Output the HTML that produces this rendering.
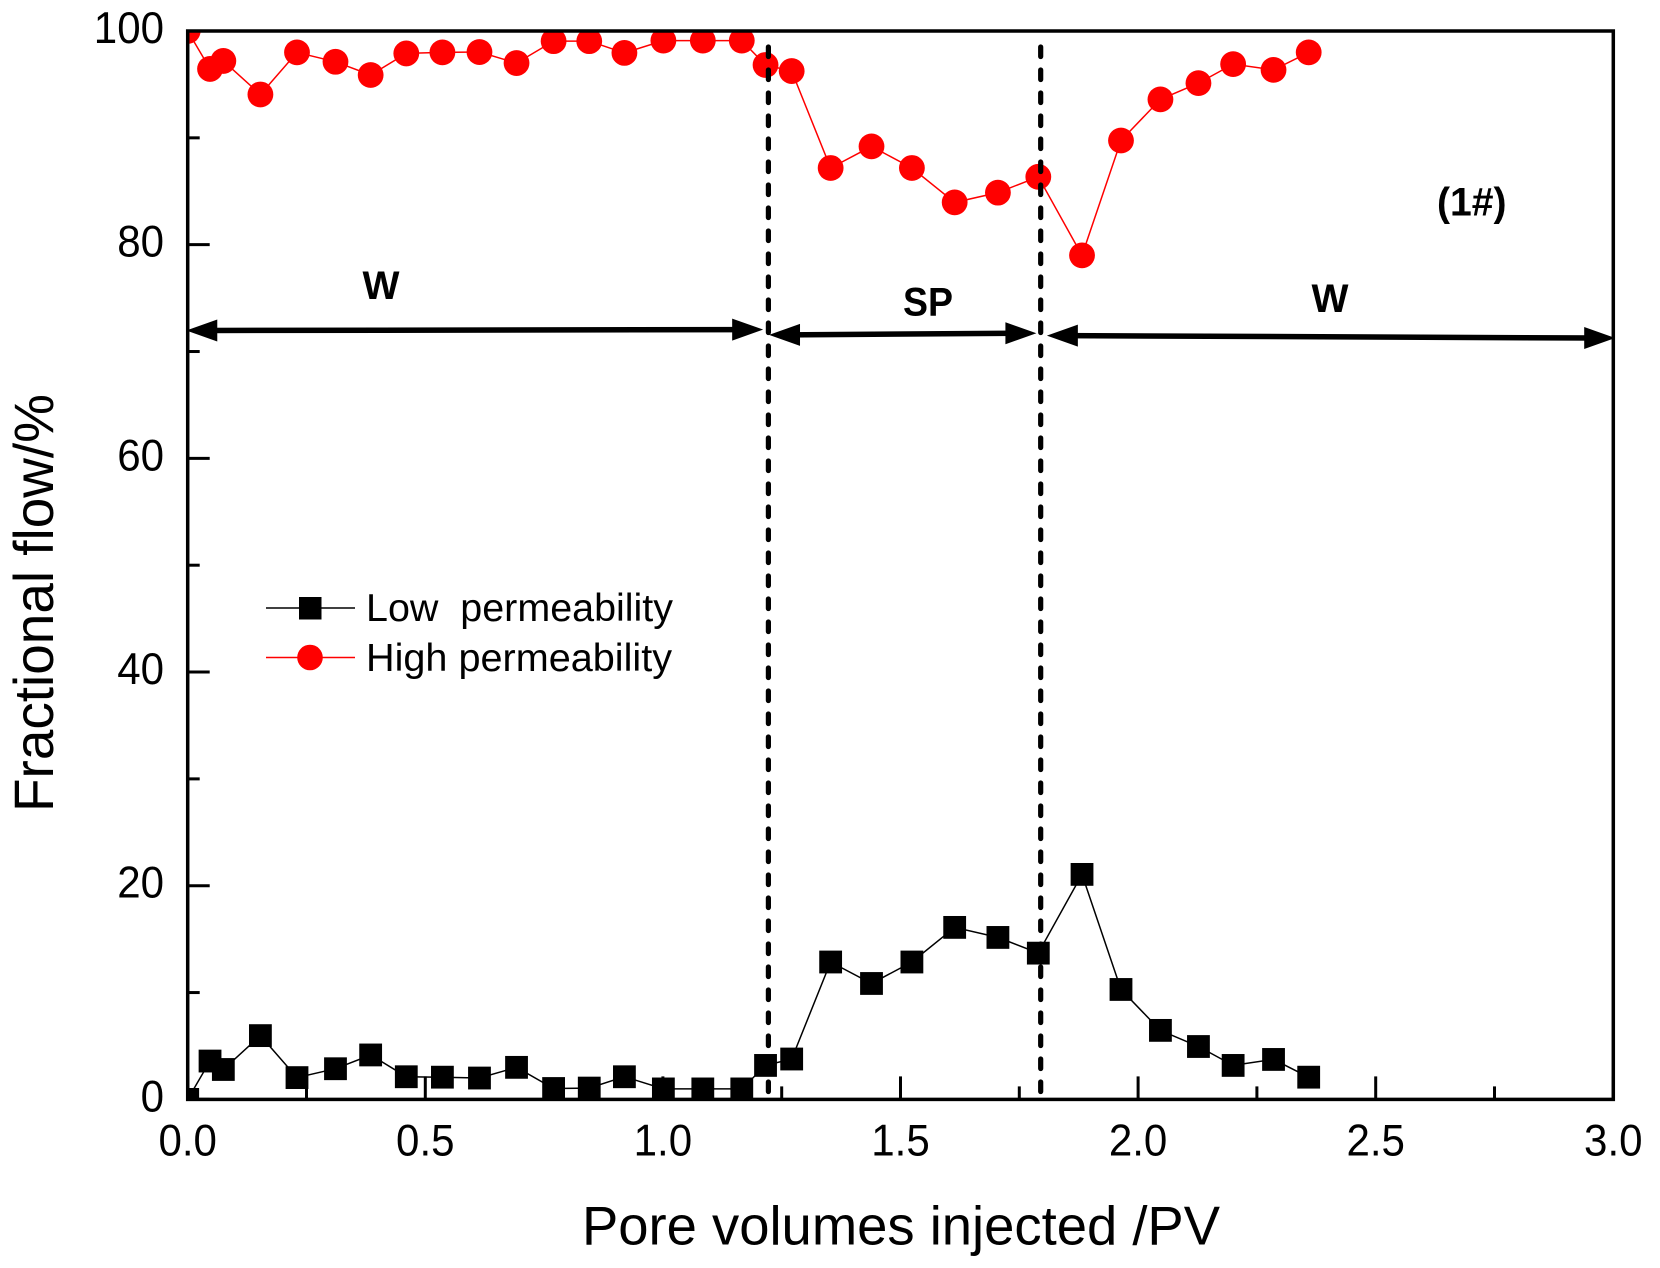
<!DOCTYPE html>
<html lang="en">
<head>
<meta charset="utf-8">
<title>Fractional flow vs pore volumes injected</title>
<style>
html,body{margin:0;padding:0;background:#fff;}
svg{display:block;}
text{font-family:"Liberation Sans",sans-serif;fill:#000;white-space:pre;}
.bold{font-weight:bold;}
</style>
</head>
<body>
<svg id="chart" xmlns="http://www.w3.org/2000/svg" width="1660" height="1268" viewBox="0 0 1660 1268">
  <rect x="0" y="0" width="1660" height="1268" fill="#fff"/>
  <defs>
    <clipPath id="plot-clip"><rect id="plot-clip-rect" x="0" y="0" width="0" height="0"/></clipPath>
  </defs>
  <g id="series-layer" clip-path="url(#plot-clip)"></g>
  <g id="vline-layer"></g>
  <g id="arrow-layer"></g>
  <g id="axis-layer"></g>

  <text x="582" y="1244.5" font-size="55" textLength="638" lengthAdjust="spacingAndGlyphs">Pore volumes injected /PV</text>
  <text transform="translate(53,812) rotate(-90)" x="0" y="0" font-size="56" textLength="418" lengthAdjust="spacingAndGlyphs">Fractional flow/%</text>

  <text class="bold" x="362.5" y="299" font-size="40" textLength="37" lengthAdjust="spacingAndGlyphs">W</text>
  <text class="bold" x="903" y="315.5" font-size="40" textLength="50" lengthAdjust="spacingAndGlyphs">SP</text>
  <text class="bold" x="1311.5" y="312" font-size="40" textLength="37" lengthAdjust="spacingAndGlyphs">W</text>
  <text class="bold" x="1437" y="215.5" font-size="40" textLength="69.5" lengthAdjust="spacingAndGlyphs">(1#)</text>

  <g>
    <g>
      <line x1="266" y1="608" x2="355" y2="608" stroke="#000" stroke-width="1.5"/>
      <rect x="299" y="597" width="22.5" height="22.5" fill="#000"/>
      <text x="366" y="621" font-size="38.5" textLength="307" lengthAdjust="spacingAndGlyphs">Low  permeability</text>
    </g>
    <g>
      <line x1="266" y1="657.5" x2="355" y2="657.5" stroke="#f00" stroke-width="1.5"/>
      <circle cx="310" cy="657.5" r="12.8" fill="#f00"/>
      <text x="366" y="671" font-size="38.5" textLength="306" lengthAdjust="spacingAndGlyphs">High permeability</text>
    </g>
  </g>
</svg>
<script>
const pvInjected = [0, 0.047, 0.075, 0.153, 0.23, 0.311, 0.385, 0.46, 0.536, 0.614, 0.692, 0.77, 0.845, 0.919, 1.001, 1.084, 1.166, 1.216, 1.271, 1.353, 1.439, 1.524, 1.614, 1.705, 1.79, 1.882, 1.964, 2.047, 2.127, 2.2, 2.285, 2.359];
const highPerm = [100, 96.45, 97.2, 94.06, 98, 97.12, 95.88, 97.9, 98, 98.03, 97, 99.05, 99.05, 97.95, 99.1, 99.1, 99.1, 96.82, 96.25, 87.18, 89.2, 87.18, 83.96, 84.87, 86.35, 79, 89.75, 93.6, 95.12, 96.9, 96.36, 98];
const lowPerm = [0, 3.59, 2.8, 5.97, 2.04, 2.87, 4.16, 2.12, 2.08, 2, 3, 1.02, 1.06, 2.12, 0.98, 0.98, 0.98, 3.18, 3.78, 12.86, 10.85, 12.86, 16.1, 15.16, 13.69, 21.06, 10.29, 6.46, 4.95, 3.18, 3.74, 2.08];
const xMajorTicks = [0, 0.5, 1, 1.5, 2, 2.5, 3];
const xTickLabels = ["0.0", "0.5", "1.0", "1.5", "2.0", "2.5", "3.0"];
const xMinorTicks = [0.25, 0.75, 1.25, 1.75, 2.25, 2.75];
const yMajorTicks = [0, 20, 40, 60, 80, 100];
const yTickLabels = ["0", "20", "40", "60", "80", "100"];
const yMinorTicks = [10, 30, 50, 70, 90];
const boundaryPV = [1.222, 1.795];
const arrowStartPV = [-0.003, 1.2233, 1.808];
const arrowEndPV = [1.211, 1.786, 3.004];
const arrowStartLevel = [71.97, 71.56, 71.49];
const arrowEndLevel = [72.05, 71.71, 71.26];

const NS = 'http://www.w3.org/2000/svg';
const PLOT_LEFT = 187.7, PLOT_RIGHT = 1613.3, PLOT_TOP = 31, PLOT_BOTTOM = 1099.4;
const X_MIN = 0, X_MAX = 3, Y_MIN = 0, Y_MAX = 100;
const TICK_FONT = 44.5, TICK_SQUEEZE = 0.945;
function xScale(v) { return PLOT_LEFT + (v - X_MIN) / (X_MAX - X_MIN) * (PLOT_RIGHT - PLOT_LEFT); }
function yScale(v) { return PLOT_BOTTOM - (v - Y_MIN) / (Y_MAX - Y_MIN) * (PLOT_BOTTOM - PLOT_TOP); }
function make(tag, attrs, parent) {
  const el = document.createElementNS(NS, tag);
  for (const k in attrs) el.setAttribute(k, attrs[k]);
  parent.appendChild(el);
  return el;
}
function squeeze(textEl) {
  textEl.setAttribute('textLength', (textEl.getComputedTextLength() * TICK_SQUEEZE).toFixed(1));
  textEl.setAttribute('lengthAdjust', 'spacingAndGlyphs');
}
const clipRect = document.getElementById('plot-clip-rect');
clipRect.setAttribute('x', PLOT_LEFT);
clipRect.setAttribute('y', PLOT_TOP);
clipRect.setAttribute('width', PLOT_RIGHT - PLOT_LEFT);
clipRect.setAttribute('height', PLOT_BOTTOM - PLOT_TOP);

const seriesLayer = document.getElementById('series-layer');
const vlineLayer = document.getElementById('vline-layer');
const arrowLayer = document.getElementById('arrow-layer');
const axisLayer = document.getElementById('axis-layer');

function polyPoints(values) {
  return values.map(function (v, i) { return xScale(pvInjected[i]).toFixed(1) + ',' + yScale(v).toFixed(1); }).join(' ');
}

/* low permeability series */
const lowLine = make('polyline', { points: polyPoints(lowPerm), fill: 'none', stroke: '#000', 'stroke-width': 1.5 }, seriesLayer);


lowPerm.forEach(function (v, i) {
  const m = make('rect', { x: xScale(pvInjected[i]) - 11.4, y: yScale(v) - 11.4, width: 22.8, height: 22.8, fill: '#000' }, seriesLayer);
  
  
});

/* high permeability series */
const highLine = make('polyline', { points: polyPoints(highPerm), fill: 'none', stroke: '#f00', 'stroke-width': 1.5 }, seriesLayer);


highPerm.forEach(function (v, i) {
  const m = make('circle', { cx: xScale(pvInjected[i]), cy: yScale(v), r: 12.9, fill: '#f00' }, seriesLayer);
  
  
});

/* dashed stage boundaries */
boundaryPV.forEach(function (v) {
  const l = make('line', { x1: xScale(v), y1: PLOT_TOP + 16, x2: xScale(v), y2: PLOT_BOTTOM - 4, stroke: '#000', 'stroke-width': 5.2, 'stroke-linecap': 'round', 'stroke-dasharray': '9.5 13.5' }, vlineLayer);
  
  
});

/* double-headed stage arrows */
function arrowHead(tipX, tipY, dir) {
  const len = 31, half = 11;
  return 'M' + tipX + ' ' + tipY +
    ' L' + (tipX + dir * len) + ' ' + (tipY - half) +
    ' L' + (tipX + dir * len) + ' ' + (tipY + half) + ' Z';
}
arrowStartPV.forEach(function (v, i) {
  const x0 = xScale(v), y0 = yScale(arrowStartLevel[i]);
  const x1 = xScale(arrowEndPV[i]), y1 = yScale(arrowEndLevel[i]);
  const l = make('line', { x1: x0 + 20, y1: y0, x2: x1 - 20, y2: y1, stroke: '#000', 'stroke-width': 5.5 }, arrowLayer);
  
  
  const a = make('path', { d: arrowHead(x0, y0, 1) + ' ' + arrowHead(x1, y1, -1), fill: '#000' }, arrowLayer);
  
  
});

/* axes frame */
const frame = make('rect', { x: PLOT_LEFT, y: PLOT_TOP, width: PLOT_RIGHT - PLOT_LEFT, height: PLOT_BOTTOM - PLOT_TOP, fill: 'none', stroke: '#000', 'stroke-width': 3.5 }, axisLayer);



/* x ticks */
xMajorTicks.forEach(function (v, i) {
  const t = make('line', { x1: xScale(v), y1: PLOT_BOTTOM, x2: xScale(v), y2: PLOT_BOTTOM - 23, stroke: '#000', 'stroke-width': 3 }, axisLayer);
  
  
  const lab = make('text', { x: xScale(v), y: 1155.5, 'font-size': TICK_FONT, 'text-anchor': 'middle' }, axisLayer);
  lab.textContent = xTickLabels[i];
  
  
  squeeze(lab);
});
xMinorTicks.forEach(function (v) {
  const t = make('line', { x1: xScale(v), y1: PLOT_BOTTOM, x2: xScale(v), y2: PLOT_BOTTOM - 13, stroke: '#000', 'stroke-width': 3 }, axisLayer);
  
  
});

/* y ticks */
yMajorTicks.forEach(function (v, i) {
  const t = make('line', { x1: PLOT_LEFT, y1: yScale(v), x2: PLOT_LEFT + 22, y2: yScale(v), stroke: '#000', 'stroke-width': 3 }, axisLayer);
  
  
  const lab = make('text', { x: 164, y: yScale(v) + 12, 'font-size': TICK_FONT, 'text-anchor': 'end' }, axisLayer);
  lab.textContent = yTickLabels[i];
  
  
  squeeze(lab);
});
yMinorTicks.forEach(function (v) {
  const t = make('line', { x1: PLOT_LEFT, y1: yScale(v), x2: PLOT_LEFT + 12, y2: yScale(v), stroke: '#000', 'stroke-width': 3 }, axisLayer);
  
  
});
</script>
</body>
</html>
